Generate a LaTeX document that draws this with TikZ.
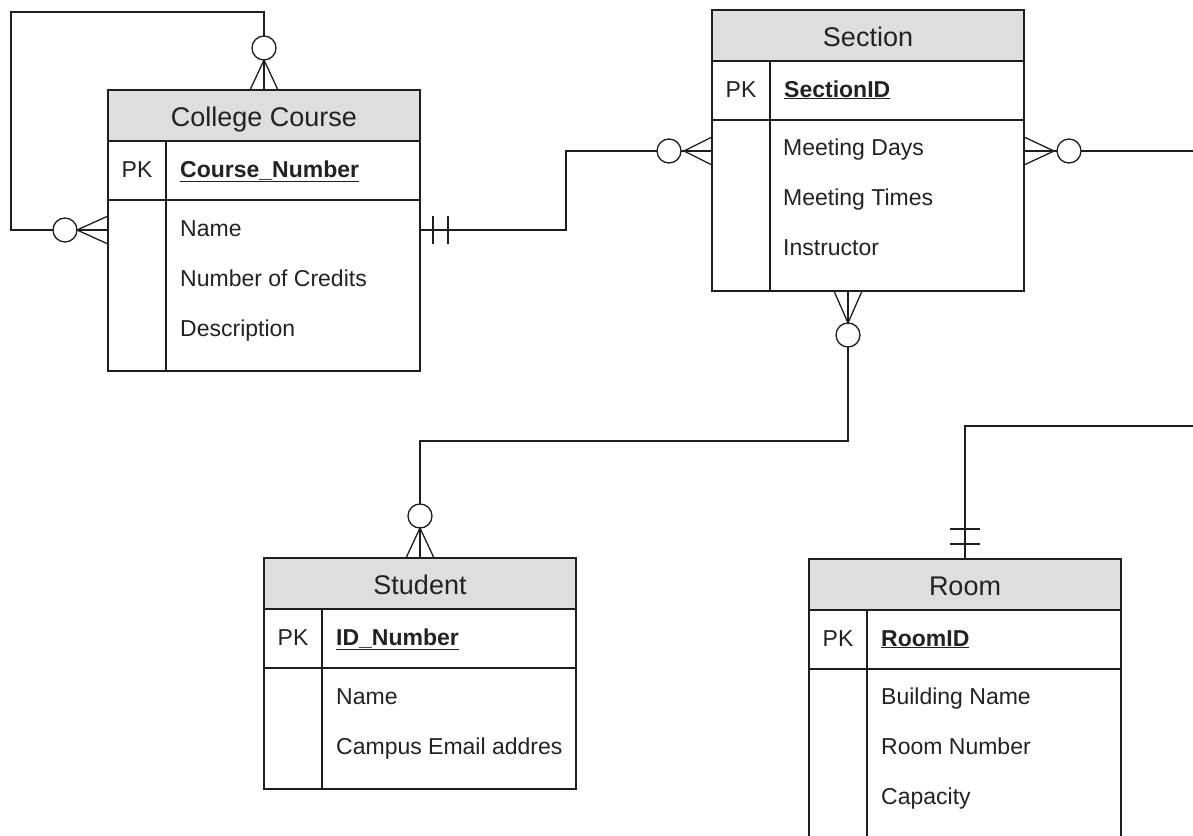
\documentclass[tikz,border=0pt]{standalone}
\usepackage{fontspec}
\setmainfont{Liberation Sans}
\usetikzlibrary{calc}
\definecolor{hdr}{HTML}{DEDEDE}
\definecolor{ink}{HTML}{1E1E1E}
\definecolor{txt}{HTML}{222222}
\tikzset{
  conn/.style={draw=ink, line width=1.3pt},
  tbl/.style={draw=ink, line width=1.3pt, minimum width=312pt, inner sep=0pt, outer sep=0pt, anchor=north west},
  hdrbox/.style={tbl, fill=hdr, minimum height=51pt},
  ttl/.style={font=\fontsize{27}{30}\selectfont, text=txt, inner sep=0pt, anchor=base},
  pkl/.style={font=\fontsize{23}{27}\selectfont, text=txt, inner sep=0pt, anchor=base},
  attr/.style={font=\fontsize{23}{27}\selectfont, text=txt, inner sep=0pt, anchor=base west},
  keyattr/.style={font=\fontsize{23}{27}\selectfont\bfseries, text=txt, inner sep=0pt, anchor=base west},
  ring/.style={circle, draw=ink, line width=1.3pt, fill=white, minimum size=24pt, inner sep=0pt, outer sep=0pt},
}
% #1 name, #2 x, #3 y, #4 height, #5 title, #6 key
\newcommand{\ertable}[6]{%
  \node[tbl, minimum height=#4] (#1) at (#2,#3) {};
  \node[hdrbox] (#1-h) at (#1.north west) {};
  \node[ttl] (#1-t) at ($(#1.north west)+(156,36.5)$) {#5};
  \draw[conn] ($(#1.north west)+(0,110)$) -- ($(#1.north east)+(0,110)$);
  \draw[conn] ($(#1.north west)+(58,51)$) -- ($(#1.south west)+(58,0)$);
  \node[pkl] (#1-pk) at ($(#1.north west)+(29,87)$) {PK};
  \node[keyattr] (#1-k) at ($(#1.north west)+(72,87)$) {\underline{#6}};
}
\begin{document}
\begin{tikzpicture}[x=1pt,y=-1pt]
\useasboundingbox (0,0) rectangle (1193,835);
\clip (0,0) rectangle (1193,835);

% ---------- tables ----------
\ertable{cc}{108}{90}{281}{College Course}{Course\_Number}
\node[attr] (cc-a1) at ($(cc.north west)+(72,146)$) {Name};
\node[attr] (cc-a2) at ($(cc.north west)+(72,196)$) {Number of Credits};
\node[attr] (cc-a3) at ($(cc.north west)+(72,246)$) {Description};

\ertable{sec}{712}{10}{281}{Section}{SectionID}
\node[attr] (sec-a1) at ($(sec.north west)+(71,145)$) {Meeting Days};
\node[attr] (sec-a2) at ($(sec.north west)+(71,195)$) {Meeting Times};
\node[attr] (sec-a3) at ($(sec.north west)+(71,245)$) {Instructor};

\ertable{stu}{264}{558}{231}{Student}{ID\_Number}
\node[attr] (stu-a1) at ($(stu.north west)+(72,146)$) {Name};
\node[attr] (stu-a2) at ($(stu.north west)+(72,196)$) {Campus Email addres};

\ertable{room}{809}{559}{300}{Room}{RoomID}
\node[attr] (room-a1) at ($(room.north west)+(72,145)$) {Building Name};
\node[attr] (room-a2) at ($(room.north west)+(72,195)$) {Room Number};
\node[attr] (room-a3) at ($(room.north west)+(72,245)$) {Capacity};

% ---------- attachment points ----------
\coordinate (cc-top) at ($(cc.north west)+(156,0)$);
\coordinate (cc-left) at ($(cc.north west)+(0,140)$);
\coordinate (cc-right) at ($(cc.north east)+(0,140)$);
\coordinate (sec-left) at ($(sec.north west)+(0,141)$);
\coordinate (sec-right) at ($(sec.north east)+(0,141)$);
\coordinate (sec-bot) at ($(sec.south west)+(136,0)$);
\coordinate (stu-top) at ($(stu.north west)+(156,0)$);
\coordinate (room-top) at ($(room.north west)+(156,0)$);
\coordinate (loopA) at (11,12);
\coordinate (j1) at (566,151);
\coordinate (edgeA) at (1193,151);
\coordinate (j2) at (848,441);
\coordinate (edgeB) at (1193,426);

% ---------- self relation on College Course ----------
\node[ring] (r1) at ($(cc-top)+(0,-42)$) {};
\node[ring] (r2) at ($(cc-left)+(-43,0)$) {};
\draw[conn] ($(cc-top)+(-14,0)$) -- (r1.south) -- ($(cc-top)+(14,0)$);
\draw[conn] (r1.south) -- (cc-top);
\draw[conn] ($(cc-left)+(0,-14)$) -- (r2.east) -- ($(cc-left)+(0,14)$);
\draw[conn] (r2.east) -- (cc-left);
\draw[conn] (r1.north) -- (r1.north |- loopA) -- (loopA) -- (loopA |- r2) -- (r2.west);

% ---------- College Course -> Section ----------
\node[ring] (r3) at ($(sec-left)+(-43,0)$) {};
\draw[conn] (cc-right) -| (j1) -- (r3.west);
\draw[conn] ($(cc-right)+(13,-14)$) -- ($(cc-right)+(13,14)$);
\draw[conn] ($(cc-right)+(28,-14)$) -- ($(cc-right)+(28,14)$);
\draw[conn] ($(sec-left)+(0,-14)$) -- ($(r3.east)+(3,0)$) -- ($(sec-left)+(0,14)$);
\draw[conn] (r3.east) -- (sec-left);

% ---------- Section -> right edge ----------
\node[ring] (r4) at ($(sec-right)+(45,0)$) {};
\draw[conn] ($(sec-right)+(0,-14)$) -- ($(r4.west)+(-3,0)$) -- ($(sec-right)+(0,14)$);
\draw[conn] (sec-right) -- (r4.west);
\draw[conn] (r4.east) -- (edgeA);

% ---------- Section -> Student ----------
\node[ring] (r5) at ($(sec-bot)+(0,44)$) {};
\node[ring] (r6) at ($(stu-top)+(0,-42)$) {};
\draw[conn] ($(sec-bot)+(-14,0)$) -- (r5.north) -- ($(sec-bot)+(14,0)$);
\draw[conn] (sec-bot) -- (r5.north);
\draw[conn] (r5.south) -- (j2) -| (r6.north);
\draw[conn] ($(stu-top)+(-14,0)$) -- (r6.south) -- ($(stu-top)+(14,0)$);
\draw[conn] (r6.south) -- (stu-top);

% ---------- Room -> right edge ----------
\draw[conn] (room-top) |- (edgeB);
\draw[conn] ($(room-top)+(-15,-30)$) -- ($(room-top)+(15,-30)$);
\draw[conn] ($(room-top)+(-15,-15)$) -- ($(room-top)+(15,-15)$);
\end{tikzpicture}
\end{document}
